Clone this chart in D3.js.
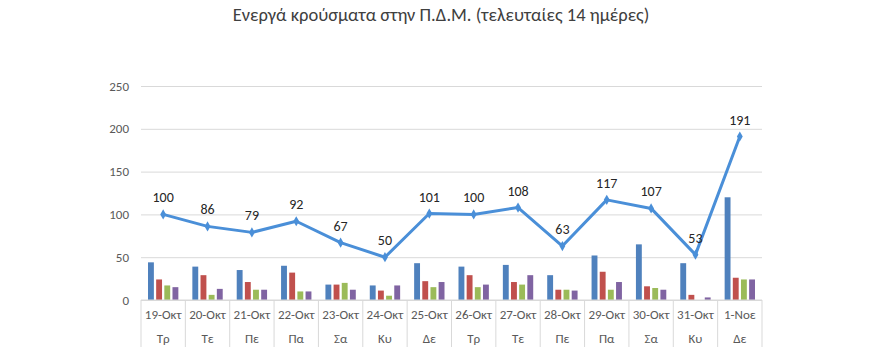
<!DOCTYPE html>
<html>
<head>
<meta charset="utf-8">
<script src="https://cdn.jsdelivr.net/npm/d3@7"></script>
<style>
  html, body { margin: 0; padding: 0; background: #fff; }
  svg { display: block; }
</style>
</head>
<body>
<svg id="chart" width="880" height="350"></svg>
<script>
// Dates and weekdays for the two-level category axis
const dates = ["19-Οκτ","20-Οκτ","21-Οκτ","22-Οκτ","23-Οκτ","24-Οκτ","25-Οκτ","26-Οκτ","27-Οκτ","28-Οκτ","29-Οκτ","30-Οκτ","31-Οκτ","1-Νοε"];
const weekdays = ["Τρ","Τε","Πε","Πα","Σα","Κυ","Δε","Τρ","Τε","Πε","Πα","Σα","Κυ","Δε"];

// Active cases (line with labels)
const activeCases = [100, 86, 79, 92, 67, 50, 101, 100, 108, 63, 117, 107, 53, 191];

// Four bar series per day
const seriesA = [44, 39, 35, 40, 18, 17, 43, 39, 41, 29, 52, 65, 43, 120];
const seriesB = [24, 29, 21, 32, 18, 11, 22, 29, 21, 12, 33, 16, 6, 26];
const seriesC = [17, 6, 12, 10, 20, 5, 15, 15, 18, 12, 12, 14, 0, 24];
const seriesD = [15, 13, 12, 10, 12, 17, 21, 18, 29, 11, 21, 12, 3, 24];

const yTicks = [0, 50, 100, 150, 200, 250];
const title = "Ενεργά κρούσματα στην Π.Δ.Μ. (τελευταίες 14 ημέρες)";

const barSeries = [seriesA, seriesB, seriesC, seriesD];
const barColors = ["#4F81BD", "#C0504D", "#9BBB59", "#8064A2"];
const lineColor = "#4A8FD8";
const font = "Calibri, Carlito, 'Open Sans', sans-serif";

const svg = d3.select("#chart");
const margin = { left: 141, right: 118, top: 86, bottom: 50 };
const W = 880, H = 350;
const plotW = W - margin.left - margin.right;
const plotH = H - margin.top - margin.bottom;

const g = svg.append("g").attr("transform", `translate(${margin.left},${margin.top})`);

const x = d3.scaleBand().domain(d3.range(dates.length)).range([0, plotW]).padding(0);
const y = d3.scaleLinear().domain([0, 250]).range([plotH, 0]);
const xInner = d3.scaleBand().domain(d3.range(barSeries.length))
  .range([7, x.bandwidth() - 7]).paddingInner(0.28);

// Title
svg.append("text")
  .attr("x", 441).attr("y", 21)
  .attr("text-anchor", "middle")
  .attr("font-family", font)
  .attr("font-size", 18.5)
  .attr("fill", "#404040")
  .text(title);

// Horizontal gridlines and value axis
const yAxis = d3.axisLeft(y).tickValues(yTicks).tickSize(-plotW).tickPadding(12);
const yg = g.append("g").call(yAxis);
yg.select(".domain").remove();
yg.selectAll(".tick line").attr("stroke", "#D9D9D9").attr("stroke-width", 1);
yg.selectAll(".tick text")
  .attr("font-family", font).attr("font-size", 13).attr("fill", "#595959");

// Bars
barSeries.forEach((vals, si) => {
  g.append("g").selectAll("rect")
    .data(vals)
    .join("rect")
    .attr("x", (d, i) => x(i) + xInner(si))
    .attr("width", xInner.bandwidth())
    .attr("y", d => y(d))
    .attr("height", d => y(0) - y(d))
    .attr("fill", barColors[si]);
});

// Category axis baseline and separators
g.append("line")
  .attr("x1", 0).attr("x2", plotW)
  .attr("y1", plotH).attr("y2", plotH)
  .attr("stroke", "#D9D9D9");
g.append("g").selectAll("line")
  .data(d3.range(dates.length + 1))
  .join("line")
  .attr("x1", i => i === dates.length ? plotW : x(i))
  .attr("x2", i => i === dates.length ? plotW : x(i))
  .attr("y1", plotH).attr("y2", plotH + 47)
  .attr("stroke", "#D9D9D9");

// Category labels: dates and weekdays
const labels = g.append("g")
  .attr("font-family", font).attr("font-size", 13).attr("fill", "#595959")
  .attr("text-anchor", "middle");
labels.selectAll("text.date")
  .data(dates).join("text").attr("class", "date")
  .attr("x", (d, i) => x(i) + x.bandwidth() / 2)
  .attr("y", plotH + 19)
  .text(d => d);
labels.selectAll("text.day")
  .data(weekdays).join("text").attr("class", "day")
  .attr("x", (d, i) => x(i) + x.bandwidth() / 2)
  .attr("y", plotH + 43)
  .text(d => d);

// Line of active cases
const cx = i => x(i) + x.bandwidth() / 2;
g.append("path")
  .datum(activeCases)
  .attr("fill", "none")
  .attr("stroke", lineColor)
  .attr("stroke-width", 3)
  .attr("stroke-linejoin", "round")
  .attr("d", d3.line().x((d, i) => cx(i)).y(d => y(d)));

// Diamond markers
g.append("g").selectAll("path")
  .data(activeCases)
  .join("path")
  .attr("transform", (d, i) => `translate(${cx(i)},${y(d)})`)
  .attr("d", d3.symbol(d3.symbolDiamond, 30)())
  .attr("fill", lineColor);

// Value labels above points
g.append("g").selectAll("text")
  .data(activeCases)
  .join("text")
  .attr("x", (d, i) => cx(i))
  .attr("y", d => y(d) - 12)
  .attr("text-anchor", "middle")
  .attr("font-family", font)
  .attr("font-size", 14)
  .attr("fill", "#262626")
  .text(d => d);
</script>
</body>
</html>
